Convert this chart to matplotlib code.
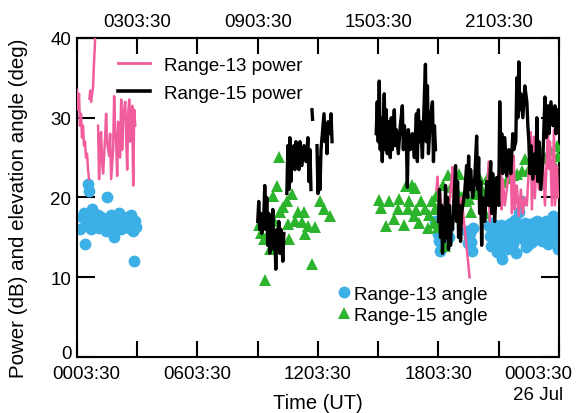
import numpy as np
from matplotlib import pyplot as plt
from matplotlib import transforms
from matplotlib.lines import Line2D

plt.rcParams['font.family'] = ['Liberation Sans', 'DejaVu Sans']

PINK = '#f05c9c'
BLUE = '#3cb0e6'
GREEN = '#2db42d'

# time axis: hours after 0003:30 UT (25 Jul)
bottom_ticks = [0, 3, 6, 9, 12, 15, 18, 21, 24]
bottom_labels = ['0003:30', '', '0603:30', '', '1203:30', '', '1803:30', '', '']
top_labels = ['', '0303:30', '', '0903:30', '', '1503:30', '', '2103:30', '']
y_ticks = [0, 10, 20, 30, 40]

# Range-13 power (dB)
r13_pow_a_t = [0.0, 0.05, 0.1, 0.15, 0.2, 0.25, 0.3, 0.35, 0.4, 0.45, 0.5, 0.55, 0.6]
r13_pow_a_v = [33.5, 31.0, 33.0, 29.0, 30.5, 27.5, 29.0, 26.5, 27.0, 25.0, 25.5, 23.5, 22.3]
r13_pow_b_t = [0.62, 0.66, 0.7, 0.76, 0.8, 0.84, 0.88, 0.92]
r13_pow_b_v = [32.4, 33.4, 32.0, 33.2, 33.8, 36.5, 38.5, 41.0]
r13_pow_c_t = [1.05, 1.1, 1.15, 1.2, 1.25, 1.3, 1.4, 1.45, 1.5, 1.6, 1.65, 1.7, 1.8,
               1.85, 1.9, 1.95, 2.0, 2.05, 2.15, 2.2, 2.25, 2.3, 2.4, 2.45, 2.5,
               2.55, 2.6, 2.65, 2.7, 2.75, 2.8, 2.85, 2.9]
r13_pow_c_v = [29.0, 22.3, 27.0, 28.2, 24.5, 23.0, 27.5, 30.5, 27.0, 25.2, 28.0, 22.3, 26.0,
               32.7, 28.5, 27.0, 22.7, 29.5, 25.0, 32.3, 26.0, 30.0, 32.0, 27.5, 23.5,
               30.5, 32.3, 27.0, 30.0, 31.5, 21.5, 31.0, 29.0]
r13_pow_d_t = [17.9, 17.95, 18.05, 18.1, 18.2, 18.3, 18.45, 18.6, 18.7, 18.75, 18.85,
               18.95, 19.1, 19.15, 19.55]
r13_pow_d_v = [21.0, 22.6, 17.0, 20.5, 16.5, 19.0, 17.0, 21.0, 23.8, 18.0, 22.0,
               17.0, 19.8, 20.0, 10.0]
r13_pow_e_t = [20.4, 20.5, 20.55, 20.65, 20.7, 21.1, 21.15, 21.2, 21.3, 21.6, 21.65,
               21.75, 21.8, 21.9, 22.0, 22.1, 22.2, 22.3, 22.4, 22.6, 22.65, 22.75,
               22.8, 22.9, 23.0, 23.2, 23.3, 23.45, 23.5, 23.55, 23.65, 23.75, 23.8,
               23.9, 23.95]
r13_pow_e_v = [20.0, 24.5, 17.0, 22.0, 18.0, 24.8, 18.5, 22.3, 19.0, 25.0, 18.0,
               25.2, 18.5, 21.5, 17.7, 21.0, 18.0, 20.0, 19.0, 28.2, 18.5, 27.6,
               19.9, 26.0, 21.0, 25.0, 19.0, 28.6, 23.6, 27.0, 19.0, 28.5, 19.0,
               24.0, 20.0]

# Range-15 power (dB)
r15_pow_a_t = [9.0, 9.05, 9.1, 9.15, 9.2, 9.3, 9.35, 9.4, 9.45, 9.5, 9.55, 9.6, 9.65,
               9.7, 9.75, 9.8, 9.85, 9.9, 9.95, 10.0, 10.05, 10.1, 10.15, 10.2, 10.25, 10.3]
r15_pow_a_v = [17.0, 19.5, 16.0, 18.0, 15.5, 17.5, 21.5, 16.0, 20.0, 14.0, 18.0, 13.0, 17.0,
               14.5, 18.5, 13.5, 15.5, 11.0, 16.0, 14.0, 17.0, 13.0, 16.0, 14.5, 12.0, 15.5]
r15_pow_b_t = [10.45, 10.5, 10.55, 10.6, 10.65, 10.7, 10.8, 10.85, 10.9, 10.95, 11.0,
               11.05, 11.1, 11.2, 11.3, 11.4, 11.5, 11.55, 11.6, 11.65]
r15_pow_b_v = [20.5, 26.5, 21.0, 27.5, 22.0, 25.0, 26.5, 23.5, 27.0, 24.5, 26.0,
               23.5, 27.0, 24.0, 26.5, 24.5, 27.5, 22.0, 26.0, 21.0]
r15_pow_c_t = [11.7, 11.73]
r15_pow_c_v = [31.0, 29.8]
r15_pow_d_t = [11.95, 12.0, 12.05, 12.1, 12.15, 12.3, 12.35, 12.4, 12.45, 12.5, 12.6,
               12.65, 12.7]
r15_pow_d_v = [26.5, 20.5, 25.0, 21.0, 26.0, 30.5, 27.0, 29.0, 25.5, 29.5, 28.0,
               30.5, 27.0]
r15_pow_e_t = [14.9, 14.95, 15.0, 15.05, 15.1, 15.15, 15.2, 15.25, 15.3, 15.35, 15.4,
               15.45, 15.5, 15.6, 15.65, 15.7, 15.8, 15.85, 15.9, 16.0, 16.1, 16.2,
               16.25, 16.3, 16.4, 16.45, 16.5, 16.6, 16.7, 16.8, 16.9, 16.95, 17.0,
               17.05, 17.1, 17.2, 17.3, 17.35, 17.4, 17.45, 17.5, 17.6, 17.7, 17.75,
               17.8, 17.85]
r15_pow_e_v = [28.0, 32.0, 27.0, 34.6, 26.0, 30.0, 24.5, 29.0, 33.0, 26.0, 31.0,
               25.5, 29.5, 25.0, 30.0, 26.0, 31.0, 26.5, 28.5, 25.5, 29.0, 31.5,
               26.0, 29.0, 27.0, 21.3, 28.5, 26.0, 28.0, 25.0, 30.5, 24.5, 31.0,
               27.0, 29.5, 25.0, 33.0, 36.7, 27.0, 34.0, 25.5, 30.0, 32.0, 24.5,
               29.0, 26.0]
r15_pow_f_t = [18.0, 18.05, 18.1, 18.15, 18.2, 18.25, 18.3, 18.35, 18.4, 18.45, 18.5,
               18.55, 18.6, 18.65, 18.7, 18.8, 18.85, 18.9, 18.95, 19.0, 19.05, 19.1,
               19.15, 19.3, 19.4, 19.45, 19.5, 19.55, 19.6, 19.7, 19.8, 19.9, 19.95,
               20.0, 20.05, 20.1, 20.15, 20.2, 20.3, 20.4, 20.5, 20.6, 20.65, 20.7,
               20.8, 20.9, 21.0, 21.05, 21.1, 21.15, 21.2, 21.3, 21.4, 21.5, 21.6,
               21.7, 21.75, 21.85, 21.9, 21.95, 22.0, 22.05, 22.1, 22.2, 22.3, 22.4,
               22.45, 22.5, 22.55, 22.6, 22.7, 22.8, 22.85, 22.9, 22.95, 23.0, 23.1,
               23.2, 23.3, 23.35, 23.45, 23.5, 23.6, 23.7, 23.8, 23.85, 23.95]
r15_pow_f_v = [17.0, 21.0, 15.0, 19.0, 13.0, 18.5, 14.5, 21.5, 15.0, 20.0, 13.5,
               19.0, 14.0, 17.5, 16.0, 21.0, 24.0, 17.0, 22.0, 15.0, 19.0, 14.5,
               18.0, 20.5, 24.0, 20.0, 25.2, 21.0, 23.5, 20.0, 22.0, 27.7, 21.0,
               25.0, 18.0, 22.0, 14.0, 20.0, 17.0, 22.0, 19.0, 24.5, 18.0, 23.0,
               17.0, 22.5, 19.0, 32.0, 25.0, 28.0, 23.0, 27.5, 22.7, 26.0, 23.0,
               28.0, 26.0, 27.0, 35.0, 30.0, 37.0, 31.0, 33.0, 30.0, 34.0, 32.0,
               29.0, 27.0, 23.0, 26.5, 22.3, 25.5, 23.0, 30.0, 22.0, 27.0, 21.0,
               25.0, 32.6, 27.5, 31.5, 28.0, 32.0, 29.0, 31.5, 28.0, 31.0]

# Range-13 elevation angle (deg)
r13_ang_t = [0.15, 0.25, 0.35, 0.45, 0.5, 0.55, 0.6, 0.65, 0.7, 0.75, 0.85, 0.4, 0.95,
             1.05, 1.1, 1.2, 1.3, 1.4, 1.5, 1.45, 1.6, 1.7, 1.8, 1.85, 1.9, 2.0, 2.1,
             2.2, 2.3, 2.4, 2.5, 2.6, 2.7, 2.75, 2.8, 2.85, 2.9, 2.95,
             17.85, 18.0, 18.05, 18.1, 18.15, 18.25, 18.35, 18.45, 18.5, 19.4, 19.45,
             19.5, 19.55, 19.6, 19.65, 19.7,
             20.5, 20.55, 20.6, 20.65, 20.7, 20.75, 20.8, 20.85, 20.9, 20.95, 21.0,
             21.05, 21.1, 21.15, 21.2, 21.25, 21.3, 21.35, 21.4, 21.45, 21.5, 21.55,
             21.6, 21.65, 21.7, 21.75, 21.8, 21.85, 21.9, 22.0, 22.05, 22.1, 22.15,
             22.2, 22.25, 22.3, 22.35, 22.4, 22.45, 22.5, 22.55, 22.6, 22.65, 22.7,
             22.75, 22.8, 22.85, 22.9, 22.95, 23.0, 23.05, 23.1, 23.15, 23.2, 23.25,
             23.3, 23.35, 23.4, 23.45, 23.5, 23.55, 23.6, 23.65, 23.7, 23.75, 23.8,
             23.85, 23.9, 23.95, 24.0, 24.0]
r13_ang_v = [16.0, 17.5, 18.0, 16.8, 17.8, 21.7, 20.8, 17.2, 16.0, 18.5, 17.0, 14.2, 16.5,
             17.8, 16.2, 17.5, 16.8, 17.2, 20.0, 15.8, 16.5, 17.8, 16.0, 15.0, 17.2, 16.5, 18.0,
             16.0, 17.0, 16.5, 17.5, 16.2, 17.8, 16.8, 15.8, 12.0, 17.0, 16.3,
             17.0, 15.4, 14.5, 13.3, 15.2, 16.0, 14.4, 16.2, 15.0, 15.8, 14.3,
             15.0, 15.5, 14.4, 13.3, 16.2,
             16.4, 15.2, 13.9, 16.8, 15.0, 16.5, 15.5, 14.0, 13.2, 15.5, 16.0,
             13.5, 16.5, 12.3, 14.0, 15.0, 16.2, 14.8, 13.5, 16.5, 15.2, 13.9,
             16.8, 15.5, 14.2, 16.0, 17.2, 13.1, 15.5, 18.2, 15.0, 19.6, 16.0,
             14.8, 15.5, 16.8, 13.8, 16.5, 15.0, 14.2, 16.3, 15.8, 14.4, 16.8,
             14.8, 16.0, 15.2, 17.0, 16.2, 15.2, 16.8, 16.5, 14.5, 16.0, 15.0,
             15.5, 17.0, 16.5, 14.2, 16.0, 15.8, 14.8, 16.3, 17.7, 15.0, 15.5,
             16.5, 16.7, 13.5, 17.5, 14.5]

# Range-15 elevation angle (deg)
r15_ang_t = [9.05, 9.15, 9.3, 9.35, 9.45, 9.6, 9.75, 9.8, 9.95, 10.05, 10.1, 10.25,
             10.45, 10.5, 10.55, 10.7, 10.85, 11.0, 11.2, 11.3, 11.35, 11.5, 11.7,
             11.85, 12.1, 12.3, 12.6,
             15.05, 15.15, 15.4, 15.55, 15.8, 16.0, 16.05, 16.3, 16.4, 16.5, 16.55,
             16.7, 16.8, 16.85, 16.9, 17.05, 17.15, 17.35, 17.5, 17.55, 17.7, 17.8,
             17.85, 17.9, 18.0, 18.1, 18.2, 18.3, 18.45, 18.6, 18.9, 19.0, 19.15,
             19.35, 19.5, 19.6, 19.85, 20.05, 20.15, 20.3, 20.5, 20.8, 21.15, 21.45,
             21.7, 21.9, 22.15, 22.3, 22.5, 22.75, 22.9, 23.1, 23.35, 23.55, 23.7,
             23.9, 23.95]
r15_ang_v = [16.5, 15.5, 14.8, 9.7, 15.2, 13.5, 20.2, 17.0, 21.4, 25.1, 18.2, 18.8,
             19.6, 16.7, 14.8, 20.4, 17.0, 18.2, 16.9, 18.2, 15.4, 16.4, 11.6,
             16.3, 19.6, 18.6, 17.7,
             19.7, 18.7, 16.4, 19.6, 17.3, 18.5, 19.8, 16.5, 21.4, 18.6, 19.6,
             21.6, 17.7, 21.2, 18.4, 16.8, 19.5, 18.5, 16.2, 17.8, 19.6, 16.8,
             18.5, 20.2, 16.3, 19.0, 21.6, 13.9, 22.8, 21.3, 20.8, 23.0, 20.0,
             19.6, 19.8, 18.2, 20.5, 22.3, 21.0, 18.1, 22.8, 22.0, 22.0, 22.4,
             22.8, 23.0, 23.3, 24.8, 23.6, 25.2, 24.2, 25.7, 25.0, 26.0, 24.5,
             26.5, 25.2]

fig = plt.figure(figsize=(5.78, 4.14), dpi=100)
ax = fig.add_axes([0.1332, 0.1353, 0.8339, 0.7705])

ax.plot(r13_ang_t, r13_ang_v, 'o', color=BLUE, markersize=8.5, markeredgewidth=0, zorder=2)
ax.plot(r15_ang_t, r15_ang_v, '^', color=GREEN, markersize=9, markeredgewidth=0, zorder=3)

for t, v in [(r13_pow_a_t, r13_pow_a_v), (r13_pow_b_t, r13_pow_b_v), (r13_pow_c_t, r13_pow_c_v),
             (r13_pow_d_t, r13_pow_d_v), (r13_pow_e_t, r13_pow_e_v)]:
    ax.plot(t, v, color=PINK, linewidth=1.8, zorder=4)

for t, v in [(r15_pow_a_t, r15_pow_a_v), (r15_pow_b_t, r15_pow_b_v), (r15_pow_c_t, r15_pow_c_v),
             (r15_pow_d_t, r15_pow_d_v), (r15_pow_e_t, r15_pow_e_v), (r15_pow_f_t, r15_pow_f_v)]:
    ax.plot(t, v, color='black', linewidth=2.4, zorder=5)

ax.set_xlim(0, 24)
ax.set_ylim(0, 40)
ax.set_yticks(y_ticks)
ax.set_xticks(bottom_ticks)
ax.set_xticklabels(bottom_labels)
ax.tick_params(axis='y', direction='in', length=13, width=1.5, labelsize=13.5, pad=4, right=True)
ax.tick_params(axis='x', direction='in', length=11.5, width=1.5, labelsize=13.5, pad=6)
for s in ax.spines.values():
    s.set_linewidth(1.5)

# first bottom label sits a little right, the y label "0" a little high
first = ax.get_xticklabels()[0]
first.set_transform(first.get_transform() + transforms.ScaledTranslation(0.09, 0, fig.dpi_scale_trans))
zero = ax.get_yticklabels()[0]
zero.set_transform(zero.get_transform() + transforms.ScaledTranslation(0, 0.05, fig.dpi_scale_trans))

ax.annotate('0003:30\n26 Jul', xy=(24, 0), xycoords='data', xytext=(13, -8),
            textcoords='offset pixels', ha='right', va='top', multialignment='center',
            fontsize=13.5, linespacing=1.3, annotation_clip=False)

top = ax.secondary_xaxis('top')
top.set_xticks(bottom_ticks)
top.set_xticklabels(top_labels)
top.tick_params(direction='in', length=11.5, width=1.5, labelsize=13.5, pad=6)
top.spines['top'].set_linewidth(1.5)

ax.set_ylabel('Power (dB) and elevation angle (deg)', fontsize=14.8)
ax.yaxis.set_label_coords(-0.102, 0.47)
ax.set_xlabel('Time (UT)', fontsize=14.5, va='top')
ax.xaxis.set_label_coords(0.5, -0.114)

power_handles = [Line2D([], [], color=PINK, linewidth=2),
                 Line2D([], [], color='black', linewidth=2.6)]
leg1 = ax.legend(power_handles, ['Range-13 power', 'Range-15 power'], loc='upper left',
                 bbox_to_anchor=(0.057, 0.983), frameon=False, fontsize=13.5,
                 handlelength=1.75, handletextpad=0.7, labelspacing=0.6, borderpad=0.2)
ax.add_artist(leg1)

angle_handles = [Line2D([], [], color=BLUE, marker='o', linestyle='', markersize=8.5, markeredgewidth=0),
                 Line2D([], [], color=GREEN, marker='^', linestyle='', markersize=9, markeredgewidth=0)]
ax.legend(angle_handles, ['Range-13 angle', 'Range-15 angle'], loc='upper left',
          bbox_to_anchor=(0.515, 0.265), frameon=False, fontsize=13.5,
          handlelength=0.6, handletextpad=0.25, labelspacing=0.2, borderpad=0.2)

fig.savefig('out.png', dpi=100)
